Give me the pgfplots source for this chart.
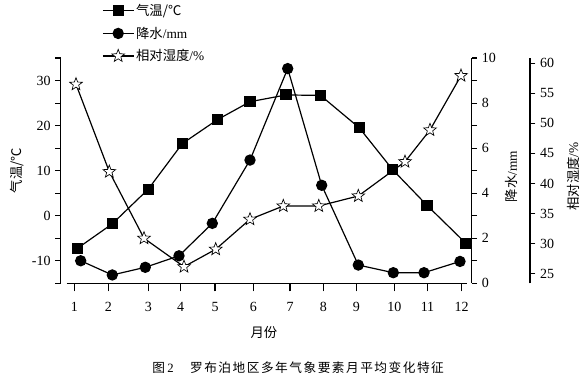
\documentclass[border=0pt]{standalone}
\usepackage{pgfplots}
\pgfplotsset{compat=1.18}
\usepackage{fontspec}
\setmainfont{Liberation Serif}
\newfontfamily\cjk{Noto Sans CJK SC}
\pgfdeclareplotmark{hstar}{%
  \pgfpathmoveto{\pgfpointpolar{90}{\pgfplotmarksize}}%
  \pgfpathlineto{\pgfpointpolar{126}{0.42\pgfplotmarksize}}%
  \pgfpathlineto{\pgfpointpolar{162}{\pgfplotmarksize}}%
  \pgfpathlineto{\pgfpointpolar{198}{0.42\pgfplotmarksize}}%
  \pgfpathlineto{\pgfpointpolar{234}{\pgfplotmarksize}}%
  \pgfpathlineto{\pgfpointpolar{270}{0.42\pgfplotmarksize}}%
  \pgfpathlineto{\pgfpointpolar{306}{\pgfplotmarksize}}%
  \pgfpathlineto{\pgfpointpolar{342}{0.42\pgfplotmarksize}}%
  \pgfpathlineto{\pgfpointpolar{18}{\pgfplotmarksize}}%
  \pgfpathlineto{\pgfpointpolar{54}{0.42\pgfplotmarksize}}%
  \pgfpathclose
  \pgfusepathqfillstroke
}
\pgfplotstableread{
x y
77.7 -7.2
112.3 -1.8
148.3 5.9
182.3 16.0
217.3 21.3
250.0 25.3
286.0 26.8
320.5 26.7
359.3 19.5
392.7 10.2
427.0 2.3
465.7 -6.1
}\temp
\pgfplotstableread{
x y
80.7 1.00
112.3 0.37
145.3 0.71
179.0 1.22
212.3 2.66
250.0 5.47
287.7 9.53
321.7 4.35
358.3 0.81
393.3 0.47
424.0 0.47
460.0 0.97
}\prec
\pgfplotstableread{
x y
76.0 56.5
109.3 41.96
144.0 30.88
184.0 26.15
215.7 29.05
250.0 34.04
283.3 36.25
318.8 36.25
358.3 37.92
405.0 43.62
430.0 48.9
461.0 57.94
}\humid
\begin{document}
\begin{tikzpicture}[x=1pt,y=1pt]
\useasboundingbox (0,0) rectangle (441,280.5);
\pgfplotsset{
  base/.style={scale only axis, at={(45.525pt,68.025pt)}, anchor=south west,
    height=168.975pt, clip=false, tick align=outside,
    major tick length=4pt, minor tick length=4pt,
    every tick/.style={black, line width=0.8pt},
    axis line style={line width=1pt},
    /pgf/number format/assume math mode=true,
    tick label style={font=\fontsize{10.5}{12}\selectfont},
    label style={font=\fontsize{10}{12}\selectfont},
    xtick=\empty, xmin=60.7},
  ser/.style={black, line width=0.9pt, mark options={solid}},
}
% x axis
\begin{axis}[base, at={(50.025pt,68.025pt)}, width=300pt, xmin=66.7, xmax=466.7,
  ymin=0, ymax=1, axis y line=none, axis x line*=bottom,
  xtick={74.3,108.3,148.3,180.7,215,253.3,290,323.3,356.3,394.3,427.5,461.7},
  xticklabels={1,2,3,4,5,6,7,8,9,10,11,12}, major tick length=6pt,
  xticklabel style={yshift=-5pt},
  xlabel={\cjk 月份}, xlabel style={at={(axis description cs:0.493,-0.2166)}, anchor=center}]
\end{axis}
% temperature
\begin{axis}[base, width=308.25pt, xmax=471.7, axis x line=none, axis y line*=left,
  ymin=-15, ymax=35, ytick={-10,0,10,20,30}, minor ytick={-15,-5,5,15,25,35},
  ylabel={\cjk 气温/℃}, ylabel style={at={(axis description cs:-0.105,0.5)}, anchor=center}]
\addplot[ser, mark=square*, mark size=3.7pt] table {\temp};
\end{axis}
% precipitation
\begin{axis}[base, width=308.25pt, xmax=471.7, axis x line=none, axis y line*=right,
  ymin=0, ymax=10, ytick={0,2,4,6,8,10}, minor ytick={1,3,5,7,9},
  ylabel={{\cjk 降水}/mm}, ylabel style={at={(axis description cs:1.0973,0.474)}, anchor=center}]
\addplot[ser, mark=*, mark size=3.8pt] table {\prec};
\end{axis}
% humidity
\begin{axis}[base, width=351.975pt, xmax=530, axis x line=none, axis y line*=right,
  ymin=23.39, ymax=60.88, ytick={25,30,35,40,45,50,55,60},
  ylabel={{\cjk 相对湿度}/\%}, ylabel style={at={(axis description cs:1.0916,0.474)}, anchor=center},
  legend style={at={(axis description cs:0.088,1.2485)}, anchor=north west, draw=none, fill=none,
    inner sep=0pt, row sep=4pt, font=\fontsize{10}{12}\selectfont, nodes={inner sep=1.5pt}},
  legend cell align=left,
  legend image code/.code={\draw[mark repeat=2,mark phase=2,#1] plot coordinates {(0pt,0pt) (11.5pt,0pt) (23pt,0pt)};}]
\addlegendimage{ser, mark=square*, mark size=3.7pt}
\addlegendentry{\cjk 气温/℃}
\addlegendimage{ser, mark=*, mark size=3.8pt}
\addlegendentry{{\cjk 降水}/mm}
\addplot[ser, mark=hstar, mark size=5pt, mark options={fill=white, line width=0.5pt}] table {\humid};
\addlegendentry{{\cjk 相对湿度}/\%}
\end{axis}
\node[font=\fontsize{9.5}{11}\selectfont, anchor=center] at (223.65,4.8)
  {{\cjk 图}\,2\hspace{1.3em}{\cjk\addfontfeature{LetterSpace=12}罗布泊地区多年气象要素月平均变化特征}};
\end{tikzpicture}
\end{document}
